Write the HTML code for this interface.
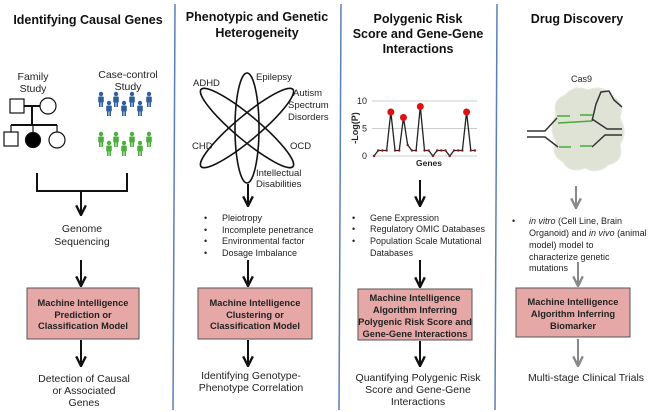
<!DOCTYPE html>
<html><head><meta charset="utf-8"><style>
html,body{margin:0;padding:0;background:#fff}
svg{display:block;font-family:"Liberation Sans",sans-serif}
.t{font-weight:bold;font-size:12.5px;fill:#111;text-anchor:middle}
.l{font-size:10.5px;fill:#222;text-anchor:middle}
.s{font-size:9px;fill:#222}
.b{font-size:9.3px;font-weight:bold;fill:#222;text-anchor:middle}
.bx{fill:#e6a8a6;stroke:#555;stroke-width:1}
</style></head><body>
<svg id="fig" width="648" height="412" viewBox="0 0 648 412">
<defs>
<marker id="ah" viewBox="0 0 10 10" refX="9" refY="5" markerWidth="6" markerHeight="6" orient="auto"><path d="M1,1 L9,5 L1,9" fill="none" stroke="#111" stroke-width="2"/></marker>
<marker id="ahg" viewBox="0 0 10 10" refX="9" refY="5" markerWidth="6" markerHeight="6" orient="auto"><path d="M1,1 L9,5 L1,9" fill="none" stroke="#888" stroke-width="2"/></marker>
</defs>
<g stroke="#5b7fb5" stroke-width="1.5">
<line x1="175" y1="4" x2="173" y2="410"/><line x1="341" y1="4" x2="339" y2="410"/><line x1="497" y1="4" x2="495" y2="410"/>
</g>
<g>
<text class="t" x="88" y="24">Identifying Causal Genes</text>
<text class="l" x="33" y="80">Family</text><text class="l" x="33" y="92">Study</text>
<text class="l" x="128" y="78">Case-control</text><text class="l" x="128" y="90">Study</text>
<g stroke="#111" stroke-width="1.2" fill="#fff">
<rect x="10" y="99" width="14" height="14"/><circle cx="48" cy="106" r="8"/>
<line x1="24" y1="106" x2="40" y2="106" stroke-width="2"/><line x1="32" y1="106" x2="32" y2="125" stroke-width="2"/>
<line x1="11" y1="125" x2="57" y2="125" stroke-width="2"/>
<line x1="11" y1="125" x2="11" y2="132"/><line x1="33" y1="125" x2="33" y2="132"/><line x1="57" y1="125" x2="57" y2="132"/>
<rect x="4" y="132" width="14" height="14"/><circle cx="33" cy="140" r="7.5" fill="#000"/><circle cx="57" cy="140" r="8"/>
</g>
<g id="people"></g>
<g stroke="#111" stroke-width="2" fill="none">
<polyline points="37,173 37,191 127,191 127,173"/><line x1="81" y1="191" x2="81" y2="215" marker-end="url(#ah)"/>
</g>
<text class="l" x="82" y="232">Genome</text><text class="l" x="82" y="245">Sequencing</text>
<line x1="81" y1="260" x2="81" y2="286" stroke="#111" stroke-width="2" marker-end="url(#ah)"/>
<rect class="bx" x="27" y="288" width="112" height="51"/>
<text class="b" x="83" y="306">Machine Intelligence</text><text class="b" x="83" y="318">Prediction or</text><text class="b" x="83" y="329">Classification Model</text>
<line x1="81" y1="340" x2="81" y2="366" stroke="#111" stroke-width="2" marker-end="url(#ah)"/>
<text class="l" x="84" y="382">Detection of Causal</text><text class="l" x="84" y="394">or Associated</text><text class="l" x="84" y="406">Genes</text>
</g>
<g>
<text class="t" x="257" y="21">Phenotypic and Genetic</text><text class="t" x="257" y="37">Heterogeneity</text>
<g fill="none" stroke="#111" stroke-width="1.6">
<ellipse cx="247" cy="128" rx="12" ry="55"/>
<ellipse cx="247" cy="128" rx="12" ry="60" transform="rotate(50 247 128)"/>
<ellipse cx="247" cy="128" rx="12" ry="60" transform="rotate(-50 247 128)"/>
</g>
<g class="s" style="font-size:9.5px">
<text x="193" y="86">ADHD</text><text x="256" y="80">Epilepsy</text><text x="293" y="96">Autism</text><text x="288" y="108">Spectrum</text><text x="288" y="120">Disorders</text>
<text x="192" y="149">CHD</text><text x="290" y="149">OCD</text><text x="256" y="176">Intellectual</text><text x="256" y="187">Disabilities</text>
</g>
<line x1="248" y1="184" x2="248" y2="206" stroke="#111" stroke-width="2" marker-end="url(#ah)"/>
<g class="s"><text x="204" y="221">•</text><text x="222" y="221">Pleiotropy</text>
<text x="204" y="233">•</text><text x="222" y="233">Incomplete penetrance</text>
<text x="204" y="244">•</text><text x="222" y="244">Environmental factor</text>
<text x="204" y="256">•</text><text x="222" y="256">Dosage Imbalance</text></g>
<line x1="248" y1="260" x2="248" y2="286" stroke="#111" stroke-width="2" marker-end="url(#ah)"/>
<rect class="bx" x="198" y="288" width="114" height="51"/>
<text class="b" x="255" y="306">Machine Intelligence</text><text class="b" x="255" y="318">Clustering or</text><text class="b" x="255" y="329">Classification Model</text>
<line x1="248" y1="340" x2="248" y2="366" stroke="#111" stroke-width="2" marker-end="url(#ah)"/>
<text class="l" x="251" y="379">Identifying Genotype-</text><text class="l" x="251" y="391">Phenotype Correlation</text>
</g>
<g>
<text class="t" x="418" y="23">Polygenic Risk</text><text class="t" x="418" y="38">Score and Gene-Gene</text><text class="t" x="418" y="53">Interactions</text>
<g id="chart"></g>
<line x1="420" y1="180" x2="420" y2="206" stroke="#111" stroke-width="2" marker-end="url(#ah)"/>
<g class="s"><text x="352" y="221">•</text><text x="370" y="221">Gene Expression</text>
<text x="352" y="232">•</text><text x="370" y="232">Regulatory OMIC Databases</text>
<text x="352" y="244">•</text><text x="370" y="244">Population Scale Mutational</text>
<text x="370" y="256">Databases</text></g>
<line x1="420" y1="260" x2="420" y2="287" stroke="#111" stroke-width="2" marker-end="url(#ah)"/>
<rect class="bx" x="358" y="289" width="114" height="51"/>
<text class="b" x="415" y="301">Machine Intelligence</text><text class="b" x="415" y="313">Algorithm Inferring</text><text class="b" x="415" y="325">Polygenic Risk Score and</text><text class="b" x="415" y="337">Gene-Gene Interactions</text>
<line x1="420" y1="341" x2="420" y2="366" stroke="#111" stroke-width="2" marker-end="url(#ah)"/>
<text class="l" x="418" y="381">Quantifying Polygenic Risk</text><text class="l" x="418" y="393">Score and Gene-Gene</text><text class="l" x="418" y="405">Interactions</text>
</g>
<g>
<text class="t" x="577" y="23">Drug Discovery</text>
<text class="s" x="571" y="82" style="font-size:9px">Cas9</text>
<g>
<path d="M565,95 Q575,84 588,90 Q603,84 612,96 Q625,102 620,118 Q628,132 620,145 Q624,162 608,165 Q598,175 585,168 Q570,174 563,162 Q550,155 556,142 Q548,128 556,115 Q552,100 565,95Z" fill="#dfe3d5" stroke="#e8ebe2"/>
<g fill="none" stroke="#333" stroke-width="1.5">
<polyline points="527,131 545,131 557,118"/><polyline points="527,137 545,137 558,147"/>
<polyline points="592,121 596,104 601,92 609,91 614,100 622,107"/>
<polyline points="592,119 607,129 622,129"/><polyline points="592,147 605,135 622,135"/>
</g>
<g stroke="#4aa83a" stroke-width="1.5">
<line x1="557" y1="116" x2="570" y2="116"/><line x1="580" y1="115" x2="593" y2="115"/>
<line x1="558" y1="123" x2="592" y2="121"/>
<line x1="559" y1="147" x2="571" y2="147"/><line x1="580" y1="146" x2="592" y2="146"/>
</g></g>
<line x1="576" y1="186" x2="576" y2="208" stroke="#888" stroke-width="2" marker-end="url(#ahg)"/>
<g class="s"><text x="512" y="224">•</text>
<text x="529" y="224"><tspan font-style="italic">in vitro</tspan> (Cell Line, Brain</text>
<text x="529" y="236">Organoid) and <tspan font-style="italic">in vivo</tspan> (animal</text>
<text x="529" y="248">model) model to</text><text x="529" y="260">characterize genetic</text><text x="529" y="271">mutations</text></g>
<line x1="578" y1="262" x2="578" y2="286" stroke="#888" stroke-width="2" marker-end="url(#ahg)"/>
<rect class="bx" x="516" y="288" width="114" height="49"/>
<text class="b" x="573" y="305">Machine Intelligence</text><text class="b" x="573" y="317">Algorithm Inferring</text><text class="b" x="573" y="329">Biomarker</text>
<line x1="578" y1="339" x2="578" y2="366" stroke="#888" stroke-width="2" marker-end="url(#ahg)"/>
<text class="l" x="586" y="381">Multi-stage Clinical Trials</text>
</g>
</svg>
<script>
const NS='http://www.w3.org/2000/svg';
const yTicks=[0,5,10];
const geneValues=[0,1,1,1,8,1,1,7,2,1,1,9,1,1,0,1,1,1,0,1,1,1,8,1,1];
const peakThreshold=7;
const chart=document.getElementById('chart');
const x0=374,x1=475,yb=156,yt=101;
const sx=i=>x0+i*(x1-x0)/(geneValues.length-1);
const sy=v=>yb-(v/10)*(yb-yt);
function mk(t,a,p){const e=document.createElementNS(NS,t);for(const k in a)e.setAttribute(k,a[k]);(p||chart).appendChild(e);return e;}
yTicks.forEach(v=>{
 const g=mk('line',{x1:372,x2:477,y1:sy(v),y2:sy(v),stroke:'#ccc','stroke-width':1});
 
 
 const t=mk('text',{x:367,y:sy(v)+3,'text-anchor':'end','font-size':'9','fill':'#222'});
 t.textContent=v;
 
 
});
const yl=mk('text',{x:0,y:0,transform:'translate(358,128) rotate(-90)','text-anchor':'middle','font-size':'9','font-weight':'bold','fill':'#222'});
yl.textContent='-Log(P)';


const xl=mk('text',{x:429,y:166,'text-anchor':'middle','font-size':'8.5','font-weight':'bold','fill':'#222'});
xl.textContent='Genes';


const ln=mk('polyline',{points:geneValues.map((v,i)=>sx(i)+','+sy(v)).join(' '),fill:'none',stroke:'#222','stroke-width':1.3});


geneValues.forEach((v,i)=>{
 const big=v>=peakThreshold;
 const c=mk('circle',{cx:sx(i),cy:sy(v),r:big?3.5:1.2,fill:big?'#d11':'#8b1a1a'});
 
 
});
const people=document.getElementById('people');
const px=[101,109,116,124,132,140,149];
const rowY=[[98,107],[138,147]];
const colors=['#2f5f9f','#4caf3c'];
rowY.forEach((r,ri)=>{px.forEach((x,i)=>{
 const y=r[i%2];
 const g=document.createElementNS(NS,'g');
 g.setAttribute('fill',colors[ri]);
 
 
 people.appendChild(g);
 mk('circle',{cx:x,cy:y-4,r:2.2},g);
 mk('rect',{x:x-2.8,y:y-1.5,width:5.6,height:6,rx:1},g);
 mk('rect',{x:x-2,y:y+4,width:1.6,height:5},g);
 mk('rect',{x:x+0.4,y:y+4,width:1.6,height:5},g);
});});
</script>
</body></html>
